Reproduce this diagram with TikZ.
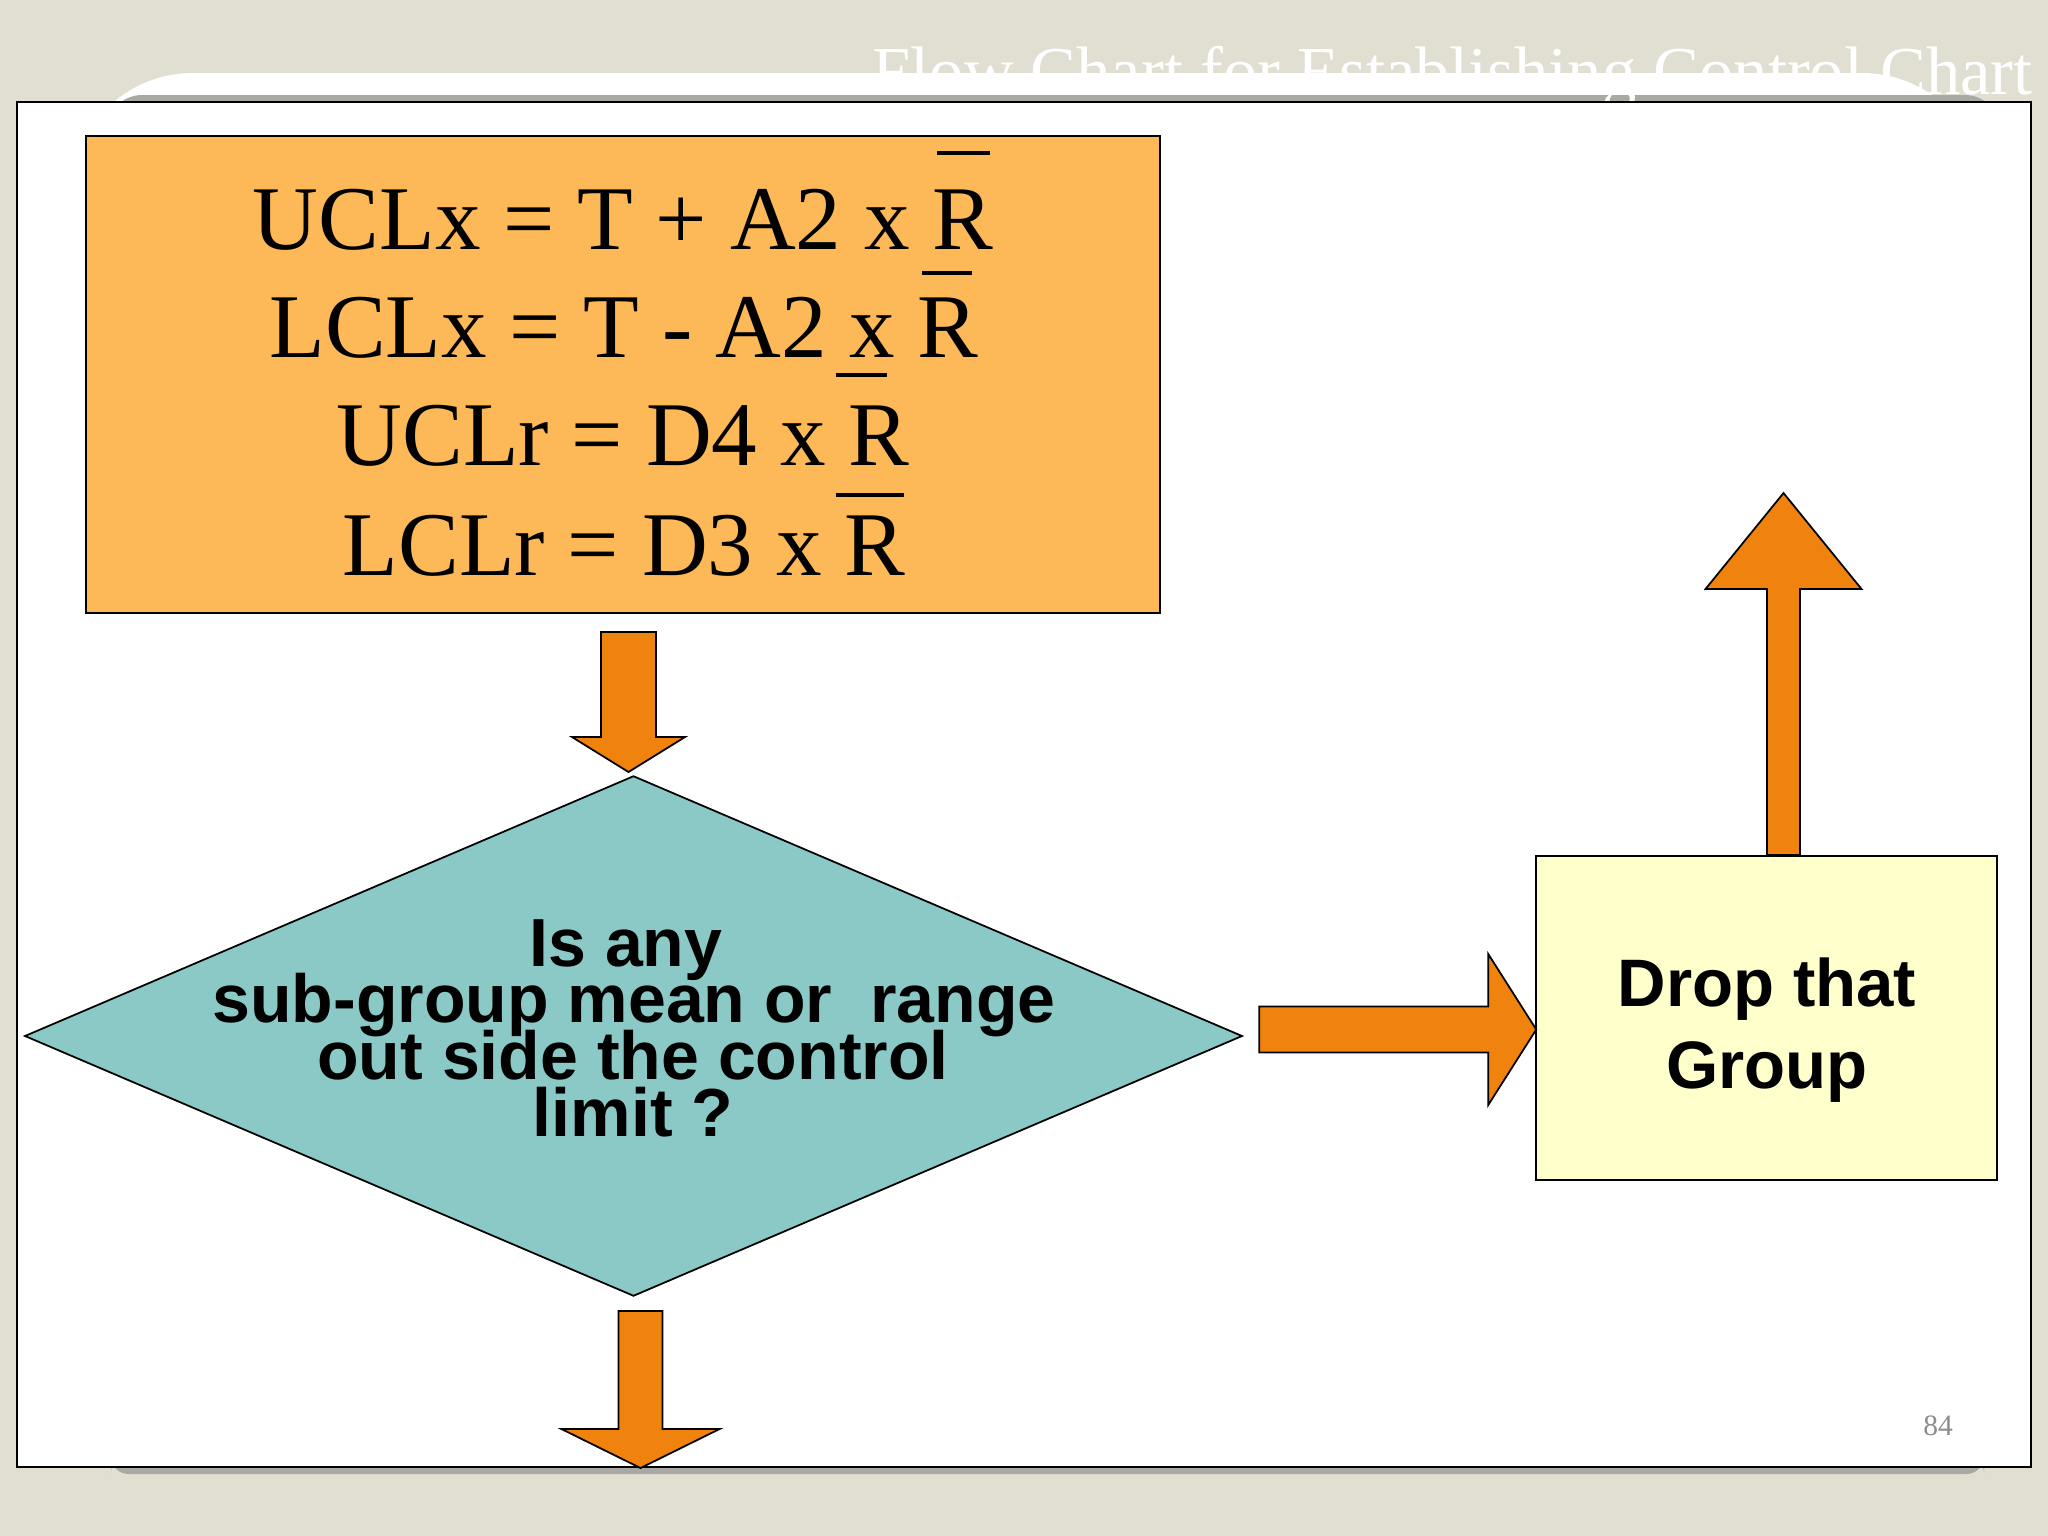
\documentclass[tikz,border=0pt]{standalone}
\usepackage{fontspec}
\setmainfont{Liberation Serif}
\newfontfamily\arialfont{Liberation Sans}
\usetikzlibrary{shapes.geometric,calc}
\definecolor{bgbeige}{RGB}{225,222,210}
\definecolor{shadowgray}{RGB}{168,168,165}
\definecolor{boxorange}{RGB}{253,184,88}
\definecolor{arroworange}{RGB}{240,130,14}
\definecolor{decteal}{RGB}{138,201,197}
\definecolor{dropyellow}{RGB}{255,255,204}
\definecolor{pagegray}{RGB}{140,140,140}
\begin{document}
\begin{tikzpicture}[x=0.01cm,y=-0.01cm,
  blockarrow/.style={fill=arroworange, draw=black, line width=0.5pt, line join=miter},
  formulabox/.style={rectangle, draw=black, line width=0.5pt, fill=boxorange, minimum width=10.74cm, minimum height=4.77cm, inner sep=0pt},
  decision/.style={diamond, draw=black, line width=0.5pt, fill=decteal, minimum width=12.17cm, minimum height=5.20cm, inner sep=0pt},
  dropbox/.style={rectangle, draw=black, line width=0.5pt, fill=dropyellow, minimum width=4.61cm, minimum height=3.24cm, inner sep=0pt},
  formula/.style={font=\fontsize{25.9pt}{31pt}\selectfont, anchor=base, inner sep=0pt},
  qtext/.style={font=\arialfont\bfseries\fontsize{19.35pt}{16pt}\selectfont, anchor=base, inner sep=0pt},
  droptext/.style={font=\arialfont\bfseries\fontsize{19.1pt}{23pt}\selectfont, anchor=base, inner sep=0pt},
  barline/.style={line width=0.95pt, black}
]
\useasboundingbox (0,0) rectangle (2048,1536);
% background
\fill[bgbeige] (0,0) rectangle (2048,1536);
% slide panel and shadows
\fill[white, rounded corners=35] (70,73) rectangle (1985,400);
\fill[shadowgray, rounded corners=10] (107,95) rectangle (2000,140);
\fill[shadowgray, rounded corners=5] (111,1455) rectangle (1984,1474);
% title
\node[anchor=base west, inner sep=0pt, text=white, font=\fontsize{19.5pt}{23pt}\selectfont] (title) at (872,94) {Flow Chart for Establishing Control Chart};
% main frame
\draw[fill=white, line width=0.65pt] (17,102) rectangle (2031,1467);

% formula box
\node[formulabox] (fbox) at (623,374.5) {};
\node[formula] (f1) at (623,249) {UCLx = T + A2 x R};
\node[formula] (f2) at (624,357) {LCLx = T - A2 x R};
\node[formula] (f3) at (623,465) {UCLr = D4 x R};
\node[formula] (f4) at (624,575) {LCLr = D3 x R};
\draw[barline] (937,153) -- (990,153);
\draw[barline] (922,273) -- (972,273);
\draw[barline] (836,375) -- (887,375);
\draw[barline] (836,495) -- (904,495);

% decision diamond
\node[decision] (dia) at (633.5,1036) {};
\node[qtext] (q1) at (626,966) {Is any};
\node[qtext] (q2) at (634,1022) {sub-group mean or \ range};
\node[qtext] (q3) at (633,1079) {out side the control};
\node[qtext] (q4) at (633,1136) {limit ?};

% drop box
\node[dropbox] (drop) at (1766.5,1018) {};
\node[droptext] (d1) at (1767,1006) {Drop that};
\node[droptext] (d2) at (1767,1088) {Group};

% page number
\node[anchor=base, inner sep=0pt, text=pagegray, font=\fontsize{8.4pt}{10pt}\selectfont] (pnum) at (1938,1435) {84};

% block arrows (connectors)
\coordinate (a1top) at ($(fbox.south)+(5.5,18)$);
\coordinate (a2top) at ($(dia.south)+(7,14)$);
\coordinate (a3start) at ($(dia.east)+(16,-6.5)$);
\coordinate (a4base) at ($(drop.north)+(17,0)$);

\draw[blockarrow, shift={(a1top)}] (-27.5,0) -- (27.5,0) -- (27.5,105) -- (56.5,105) -- (0,140) -- (-56.5,105) -- (-27.5,105) -- cycle;
\draw[blockarrow, shift={(a2top)}] (-22,0) -- (22,0) -- (22,118) -- (79,118) -- (0,157) -- (-79,118) -- (-22,118) -- cycle;
\draw[blockarrow, shift={(a3start)}] (0,-23) -- (229,-23) -- (229,-75.5) -- (277,0) -- (229,75.5) -- (229,23) -- (0,23) -- cycle;
\draw[blockarrow, shift={(a4base)}] (-16.5,0) -- (-16.5,-266) -- (-78,-266) -- (0,-362) -- (78,-266) -- (16.5,-266) -- (16.5,0) -- cycle;
\end{tikzpicture}
\end{document}
